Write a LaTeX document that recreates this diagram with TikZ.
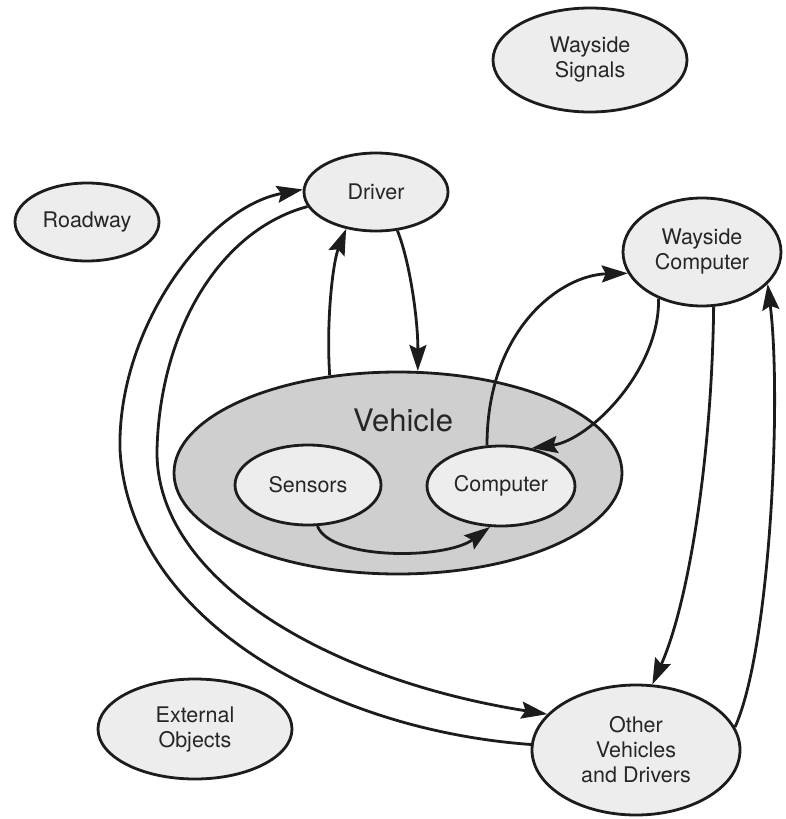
\documentclass[tikz,border=0pt]{standalone}
\usepackage{fontspec}
\setmainfont{TeX Gyre Heros}
\usetikzlibrary{shapes.geometric,arrows.meta}
\definecolor{inkline}{HTML}{1C1C1C}
\definecolor{inktext}{HTML}{262626}
\definecolor{paleblob}{HTML}{EDEDED}
\definecolor{vehiclegray}{HTML}{CFCFCF}
\tikzset{
  blob/.style={ellipse, draw=inkline, line width=2.8pt, fill=paleblob, inner sep=0pt,
    text=inktext, align=center,
    font=\fontsize{21.5pt}{25pt}\selectfont},
  bigblob/.style={blob, fill=vehiclegray},
  biglabel/.style={text=inktext, font=\fontsize{31pt}{36pt}\selectfont, inner sep=0pt},
  flow/.style={draw=inkline, line width=2.8pt,
    -{Stealth[length=26pt,width=17pt,inset=4pt]}},
}
\begin{document}
\begin{tikzpicture}[x=1pt,y=-1pt]
\useasboundingbox (0,0) rectangle (786,819);

% system context
\node[blob, minimum width=194pt, minimum height=104pt] (signals) at (590,60) {Wayside\\Signals};
\node[blob, minimum width=144pt, minimum height=78pt] (roadway) at (87,222) {Roadway};
\node[blob, minimum width=144pt, minimum height=78pt] (driver) at (376,192) {Driver};
\node[blob, minimum width=158pt, minimum height=108pt] (wayside) at (702,252) {Wayside\\Computer};
\node[blob, minimum width=194pt, minimum height=100pt] (external) at (195,729) {External\\Objects};
\node[blob, minimum width=208pt, minimum height=130pt] (others) at (636,750) {Other\\Vehicles\\and Drivers};

% the vehicle and its parts
\node[bigblob, minimum width=448pt, minimum height=202pt] (vehicle) at (398,473) {};
\node[biglabel] (vehiclelabel) at (403,420) {Vehicle};
\node[blob, minimum width=146pt, minimum height=80pt] (sensors) at (308,485) {Sensors};
\node[blob, minimum width=148pt, minimum height=80pt] (computer) at (501,486) {Computer};

% flows between vehicle and driver
\draw[flow] (vehicle.125) .. controls (326,320) and (333,262) .. (driver.231);
\draw[flow] (driver.299) .. controls (410,262) and (418,320) .. (vehicle.79);

% on-board data path
\draw[flow] (sensors.283) .. controls (330,560) and (445,560) .. (computer.255);

% vehicle computer and wayside computer
\draw[flow] (computer.109) .. controls (487,330) and (560,275) .. (wayside.196);
\draw[flow] (wayside.227) .. controls (660,370) and (590,440) .. (computer.51);

% wayside computer and other vehicles
\draw[flow] (wayside.282) .. controls (712,450) and (690,600) .. (others.76);
\draw[flow] (others.13) .. controls (770,650) and (782,400) .. (wayside.334);

% driver and other vehicles
\draw[flow] (driver.192) .. controls (220,230) and (160,330) .. (157,450)
  .. controls (155,580) and (330,680) .. (others.158);
\draw[flow] (others.177) .. controls (330,730) and (130,620) .. (120,450)
  .. controls (117,330) and (205,208) .. (driver.178);
\end{tikzpicture}
\end{document}
